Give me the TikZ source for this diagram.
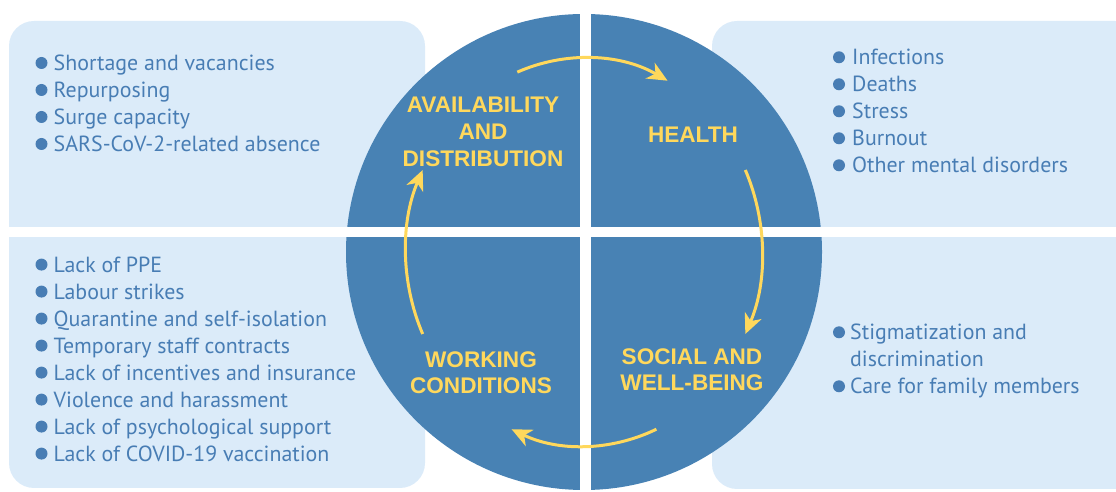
\documentclass[tikz,border=0pt]{standalone}
\usepackage{fontspec}
\setmainfont{PT Sans}
\newfontfamily\headfont{Liberation Sans}
\definecolor{paleblue}{RGB}{219,235,249}
\definecolor{discblue}{RGB}{72,130,180}
\definecolor{itemblue}{RGB}{72,125,180}
\definecolor{arrowyellow}{RGB}{255,216,92}
\usetikzlibrary{arrows.meta}
\usetikzlibrary{calc}

\begin{document}
\begin{tikzpicture}[x=1pt,y=1pt,
    item/.style={anchor=base west, inner sep=0pt, text=itemblue, font=\fontsize{21.9}{27}\selectfont},
    heading/.style={align=center, inner sep=0pt, text=arrowyellow, font=\headfont\bfseries\fontsize{22.6}{26.7}\selectfont},
    cyclearrow/.style={arrowyellow, line width=3pt, -{Stealth[length=20pt,width=18pt,inset=6pt]}}]

    \useasboundingbox (0,0) rectangle (1116,492);

    % Side panels
    \fill[paleblue, rounded corners=25pt] (9,4) rectangle (425,471);
    \fill[paleblue, rounded corners=25pt] (712,3) rectangle (1140,471);

    % Disc
    \coordinate (c) at (584,240);
    \fill[discblue] (c) circle[radius=238];

    % White cross
    \fill[white] (0,255) rectangle (1116,264.5);
    \fill[white] (580,0) rectangle (591,492);

    % Headings
    \node[heading] (avail) at (483,360) {AVAILABILITY\\AND\\DISTRIBUTION};
    \node[heading] (health) at (693,357.4) {HEALTH};
    \node[heading] (social) at (692,122.2) {SOCIAL AND\\WELL-BEING};
    \node[heading] (working) at (481,119.4) {WORKING\\CONDITIONS};

    % Cycle arrows
    \draw[cyclearrow] ($(c)+(112:178 and 194)$) arc[start angle=112, end angle=62, x radius=178, y radius=194];
    \draw[cyclearrow] ($(c)+(25:178 and 194)$) arc[start angle=25, end angle=-25, x radius=178, y radius=194];
    \draw[cyclearrow] ($(c)+(-66:178 and 194)$) arc[start angle=-66, end angle=-114, x radius=178, y radius=194];
    \draw[cyclearrow] ($(c)+(205:178 and 194)$) arc[start angle=205, end angle=155, x radius=178, y radius=194];

    % Top left list
    \foreach \txt [count=\i] in {Shortage and vacancies, Repurposing, Surge capacity, SARS-CoV-2-related absence} {
        \fill[itemblue] (41.5,456-27*\i) circle[radius=6];
        \node[item] (tl\i) at (53.5,448.3-27*\i) {\txt};
    }

    % Top right list
    \foreach \txt [count=\i] in {Infections, Deaths, Stress, Burnout, Other mental disorders} {
        \fill[itemblue] (839,461.7-27*\i) circle[radius=6];
        \node[item] (tr\i) at (852,454-27*\i) {\txt};
    }

    % Bottom left list
    \foreach \txt [count=\i] in {Lack of PPE, Labour strikes, Quarantine and self-isolation, Temporary staff contracts,
        Lack of incentives and insurance, Violence and harassment, Lack of psychological support, Lack of COVID-19 vaccination} {
        \fill[itemblue] (41.5,254.4-27*\i) circle[radius=6];
        \node[item] (bl\i) at (53.5,246.7-27*\i) {\txt};
    }

    % Bottom right list
    \fill[itemblue] (839,159.7) circle[radius=6];
    \node[item] (br1) at (850,152) {Stigmatization and};
    \node[item] (br2) at (850,125) {discrimination};
    \fill[itemblue] (839,105.7) circle[radius=6];
    \node[item] (br3) at (850,98) {Care for family members};

\end{tikzpicture}
\end{document}
